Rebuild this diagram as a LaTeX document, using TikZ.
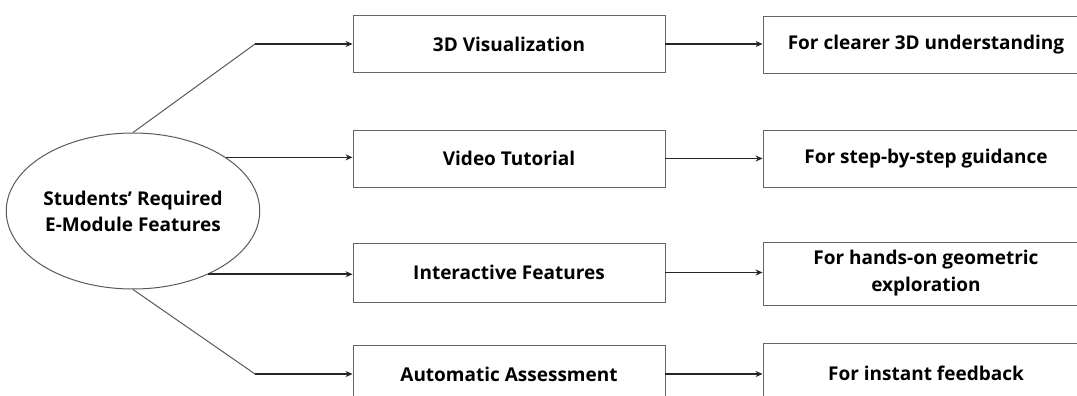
\documentclass[tikz,border=0pt]{standalone}
\usepackage{fontspec}
\setmainfont{Open Sans}
\usetikzlibrary{shapes.geometric,arrows.meta}

\begin{document}
\begin{tikzpicture}[x=1pt,y=-1pt,
  feat/.style={draw=black!60,line width=0.9pt,minimum width=312pt,minimum height=57pt,
    inner sep=0pt,align=center,font=\bfseries\fontsize{19}{27}\selectfont},
  goal/.style={feat,minimum width=326pt},
  arr/.style={-{Stealth[length=7pt,width=6pt]},line width=1.6pt,black!85},
  lnk/.style={draw=black!65,line width=1pt}]

\useasboundingbox (0,0) rectangle (1077,396);

\node[ellipse,draw=black!65,line width=1pt,minimum width=247pt,minimum height=156pt,
  inner sep=0pt,align=center,font=\bfseries\fontsize{19}{26}\selectfont] (e) at (133,211)
  {Students’ Required\\E-Module Features};

\node[feat] (f1) at (509,44) {3D Visualization};
\node[feat] (f2) at (509,158.5) {Video Tutorial};
\node[feat,minimum height=59pt] (f3) at (509,272.5) {Interactive Features};
\node[feat,minimum height=58pt] (f4) at (509,374) {Automatic Assessment};

\node[goal] (g1) at (926,45) {For clearer 3D understanding};
\node[goal] (g2) at (926,158.5) {For step-by-step guidance};
\node[goal,minimum height=63pt] (g3) at (926,273.5) {For hands-on geometric\\exploration};
\node[goal,minimum height=60pt] (g4) at (926,373) {For instant feedback};

\coordinate (k1) at (255,44);
\coordinate (k4) at (255,374);

\draw[lnk] (e.north) -- (k1);
\draw[arr] (k1) -- (f1.west);
\draw[arr] (e.30) -- (e.30 -| f2.west);
\draw[arr] (e.-40) -- (e.-40 -| f3.west);
\draw[lnk] (e.south) -- (k4);
\draw[arr] (k4) -- (f4.west);

\draw[arr] (f1.east) -- (f1.east -| g1.west);
\draw[arr] (f2.east) -- (f2.east -| g2.west);
\draw[arr] (f3.east) -- (f3.east -| g3.west);
\draw[arr] (f4.east) -- (f4.east -| g4.west);

\end{tikzpicture}
\end{document}
